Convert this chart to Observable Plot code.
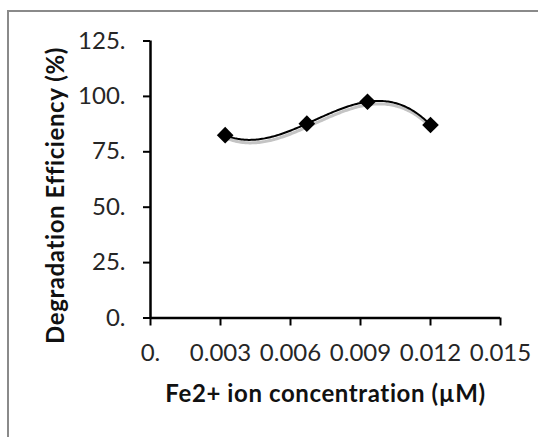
<!DOCTYPE html>
<html>
<head>
<meta charset="utf-8">
<script src="https://cdn.jsdelivr.net/npm/d3@7"></script>
<script src="https://cdn.jsdelivr.net/npm/@observablehq/plot@0.6"></script>
<style>
  html, body { margin: 0; padding: 0; background: #fff; }
  #wrap { position: relative; width: 538px; height: 437px; overflow: hidden; }
  #frame { position: absolute; left: 7px; top: 10px; width: 600px; height: 500px;
           border-left: 2px solid #8a8a8a; border-top: 2px solid #8a8a8a; box-sizing: border-box; }
  #chart { position: absolute; left: 0; top: 0; }
  #chart g[aria-label="x-axis label"] text, #chart .ytitle text { letter-spacing: 0.6px; }
</style>
</head>
<body>
<div id="wrap"><div id="frame"></div><div id="chart"></div></div>
<script>
const concentration = [0.0032, 0.0067, 0.0093, 0.0120];
const efficiency = [82.5, 87.7, 97.6, 87.1];
const xTicks = [0, 0.003, 0.006, 0.009, 0.012, 0.015];
const yTicks = [0, 25, 50, 75, 100, 125];
const xTitle = "Fe2+ ion concentration (µM)";
const yTitle = "Degradation Efficiency (%)";

const data = concentration.map((c, i) => ({x: c, y: efficiency[i]}));
const font = "Lato, 'Open Sans', sans-serif";

// Order-3 polynomial trendline through the points (as an Excel polynomial trendline), drawn as a d3 curve
function polyCurve(context) {
  let xs, ys;
  return {
    areaStart() {}, areaEnd() {},
    lineStart() { xs = []; ys = []; },
    point(x, y) { xs.push(+x); ys.push(+y); },
    lineEnd() {
      const n = xs.length;
      if (!n) return;
      const f = t => {
        let s = 0;
        for (let i = 0; i < n; i++) {
          let L = 1;
          for (let j = 0; j < n; j++) if (j !== i) L *= (t - xs[j]) / (xs[i] - xs[j]);
          s += ys[i] * L;
        }
        return s;
      };
      const a = xs[0], b = xs[n - 1], N = 150;
      context.moveTo(a, ys[0]);
      for (let k = 1; k <= N; k++) { const t = a + (b - a) * k / N; context.lineTo(t, f(t)); }
    }
  };
}

const fmtX = d => d === 0 ? "0." : d.toFixed(3);
const fmtY = d => d + ".";

const chart = Plot.plot({
  width: 538,
  height: 437,
  marginLeft: 150,
  marginTop: 40.5,
  marginRight: 38,
  marginBottom: 119.5,
  style: {fontFamily: font, fontSize: "24px", color: "#222", background: "transparent", overflow: "visible"},
  x: {domain: [0, 0.015]},
  y: {domain: [0, 125]},
  marks: [
    Plot.axisX({ticks: xTicks, tickFormat: fmtX, tickSize: 8, tickPadding: 18, strokeWidth: 2, stroke: "#000", fill: "#262626", label: null}),
    Plot.axisX({ticks: [], label: xTitle, labelAnchor: "center", labelArrow: "none", labelOffset: 84, fontWeight: "bold", fill: "#111"}),
    Plot.axisY({ticks: yTicks, tickFormat: fmtY, tickSize: 7, tickPadding: 18, strokeWidth: 2, stroke: "#000", fill: "#262626", label: null}),
    Plot.text([yTitle], {frameAnchor: "left", textAnchor: "middle", lineAnchor: "middle", rotate: -90, dx: -94, dy: 16, fontWeight: "bold", fontSize: 24, fill: "#111", className: "ytitle"}),
    Plot.ruleY([0], {stroke: "#000", strokeWidth: 2.5}),
    Plot.ruleX([0], {stroke: "#000", strokeWidth: 2.5}),
    Plot.line(data, {x: "x", y: "y", curve: polyCurve, stroke: "#c4c4c4", strokeWidth: 3, dy: 3, dx: 1}),
    Plot.line(data, {x: "x", y: "y", curve: polyCurve, stroke: "#000", strokeWidth: 2}),
    Plot.dot(data, {x: "x", y: "y", symbol: "diamond2", r: 7.5, fill: "#000", stroke: null})
  ]
});
document.getElementById("chart").appendChild(chart);
</script>
</body>
</html>
